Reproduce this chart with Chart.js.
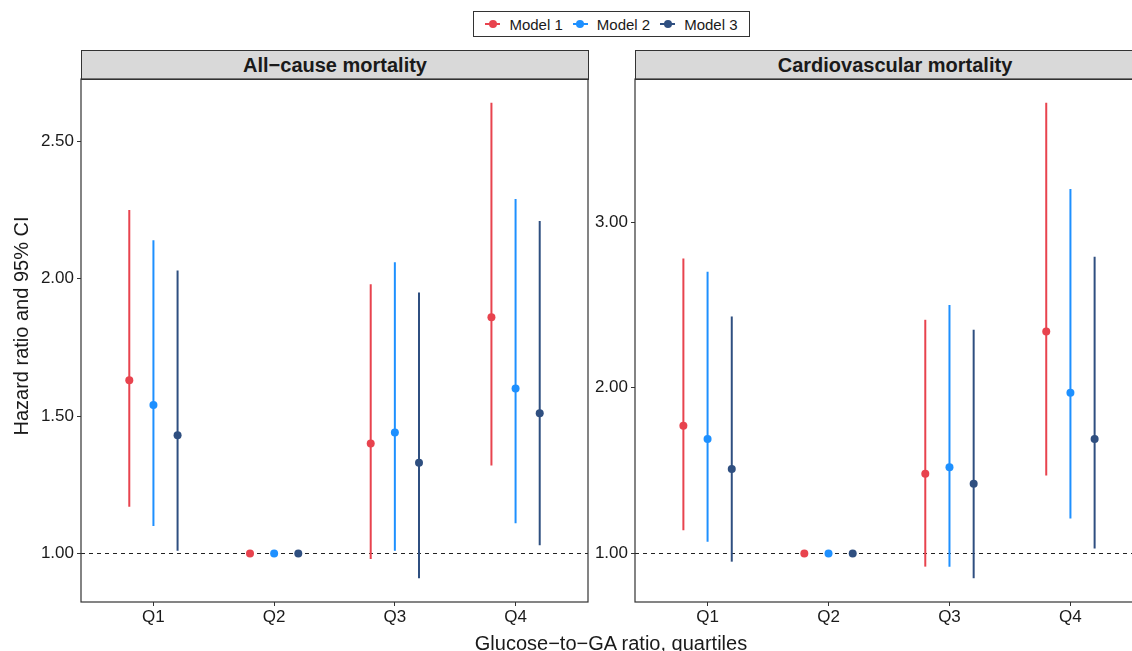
<!DOCTYPE html>
<html lang="en">
<head>
  <meta charset="UTF-8">
  <title>Hazard ratio by glucose-to-GA quartile</title>
  <script src="https://cdn.jsdelivr.net/npm/chart.js"></script>
  <style>
    html, body { margin: 0; padding: 0; overflow: hidden; background: #fff; }
    body { position: relative; width: 1132px; height: 651px; font-family: "Liberation Sans", Arial, sans-serif; color: #1a1a1a; }
    .panel { position: absolute; top: 74px; height: 577px; }
    .strip { position: absolute; top: 50px; height: 30px; box-sizing: border-box; background: #d9d9d9; border: 1px solid #333;
             text-align: center; font-weight: bold; font-size: 20px; line-height: 28px; }
    #legend { position: absolute; left: 473px; top: 11px; width: 277px; height: 26px; box-sizing: border-box; border: 1px solid #333;
              display: flex; align-items: center; justify-content: center; font-size: 15px; }
    #legend .item { display: flex; align-items: center; margin: 0 5px; }
    #legend .key { position: relative; width: 15px; height: 2px; margin-right: 9px; }
    #legend .key::after { content: ""; position: absolute; left: 3.5px; top: -3.5px; width: 8px; height: 8px; border-radius: 50%; background: inherit; }
    .title { position: absolute; font-size: 20px; line-height: 24px; white-space: nowrap; text-align: center; }
  </style>
</head>
<body>
  <div id="legend"></div>

  <div class="strip" style="left:81px; width:508px;">All−cause mortality</div>
  <div class="strip" style="left:635px; width:520px;">Cardiovascular mortality</div>

  <div class="panel" style="left:0; width:600px;"><canvas id="allCause"></canvas></div>
  <div class="panel" style="left:590px; width:570px;"><canvas id="cardio"></canvas></div>

  <div class="title" style="left:-179px; top:314px; width:400px; transform:rotate(-90deg);">Hazard ratio and 95% CI</div>
  <div class="title" style="left:411px; top:631px; width:400px;">Glucose−to−GA ratio, quartiles</div>

  <script>
    // Catégories et séries
    const quartiles = ['Q1', 'Q2', 'Q3', 'Q4'];
    const models = ['Model 1', 'Model 2', 'Model 3'];
    const modelColors = ['#e8434e', '#1e90ff', '#2f4f80'];

    // Mortalité toutes causes : HR, borne basse, borne haute
    const allHr1 = [1.63, 1.00, 1.40, 1.86];
    const allLo1 = [1.17, 1.00, 0.98, 1.32];
    const allHi1 = [2.25, 1.00, 1.98, 2.64];
    const allHr2 = [1.54, 1.00, 1.44, 1.60];
    const allLo2 = [1.10, 1.00, 1.01, 1.11];
    const allHi2 = [2.14, 1.00, 2.06, 2.29];
    const allHr3 = [1.43, 1.00, 1.33, 1.51];
    const allLo3 = [1.01, 1.00, 0.91, 1.03];
    const allHi3 = [2.03, 1.00, 1.95, 2.21];

    // Mortalité cardiovasculaire
    const cvHr1 = [1.77, 1.00, 1.48, 2.34];
    const cvLo1 = [1.14, 1.00, 0.92, 1.47];
    const cvHi1 = [2.78, 1.00, 2.41, 3.72];
    const cvHr2 = [1.69, 1.00, 1.52, 1.97];
    const cvLo2 = [1.07, 1.00, 0.92, 1.21];
    const cvHi2 = [2.70, 1.00, 2.50, 3.20];
    const cvHr3 = [1.51, 1.00, 1.42, 1.69];
    const cvLo3 = [0.95, 1.00, 0.85, 1.03];
    const cvHi3 = [2.43, 1.00, 2.35, 2.79];

    // Graduations de l'axe Y
    const allTicks = [1.00, 1.50, 2.00, 2.50];
    const cvTicks = [1.00, 2.00, 3.00];

    const FONT = '"Liberation Sans", Arial, sans-serif';
    const DODGE = 0.2;

    // Légende
    const legend = document.getElementById('legend');
    models.forEach((m, i) => {
      legend.innerHTML += '<span class="item"><span class="key" style="background:' + modelColors[i] + '"></span>' + m + '</span>';
    });

    // Intervalles de confiance, ligne de référence et cadre du panneau
    const errorBars = {
      id: 'errorBars',
      beforeDatasetsDraw(chart) {
        const { ctx, chartArea, scales: { x, y } } = chart;
        ctx.save();
        ctx.strokeStyle = '#222';
        ctx.lineWidth = 1;
        ctx.setLineDash([4, 4]);
        const yRef = Math.round(y.getPixelForValue(1)) + 0.5;
        ctx.beginPath();
        ctx.moveTo(chartArea.left, yRef);
        ctx.lineTo(chartArea.right, yRef);
        ctx.stroke();
        ctx.setLineDash([]);
        ctx.lineWidth = 2;
        chart.data.datasets.forEach(ds => {
          ctx.strokeStyle = ds.backgroundColor;
          ds.data.forEach(p => {
            if (p.lo === p.hi) return;
            const px = x.getPixelForValue(p.x);
            ctx.beginPath();
            ctx.moveTo(px, y.getPixelForValue(p.lo));
            ctx.lineTo(px, y.getPixelForValue(p.hi));
            ctx.stroke();
          });
        });
        ctx.restore();
      },
      afterDraw(chart) {
        const { ctx, chartArea: a } = chart;
        ctx.save();
        ctx.strokeStyle = '#333';
        ctx.lineWidth = 1.2;
        ctx.strokeRect(a.left, a.top, a.right - a.left, a.bottom - a.top);
        ctx.restore();
      }
    };

    function buildSeries(hr, lo, hi, m) {
      return quartiles.map((q, i) => ({ x: i + 1 + (m - 1) * DODGE, y: hr[i], lo: lo[i], hi: hi[i] }));
    }

    // Étendue de l'axe Y : données + 5 % de marge (comme ggplot)
    function paddedRange(lists) {
      const all = lists.flat();
      const lo = Math.min(...all), hi = Math.max(...all);
      const pad = (hi - lo) * 0.05;
      return [lo - pad, hi + pad];
    }

    // Pas de marge automatique autour des étiquettes
    function noPadding(sc) {
      sc.paddingTop = 0;
      sc.paddingBottom = 0;
      sc.paddingLeft = 0;
      sc.paddingRight = 0;
    }

    function makeChart(id, series, ticks, yWidth, padRight) {
      const range = paddedRange(series.flatMap(s => [s[1], s[2]]));
      return new Chart(document.getElementById(id), {
        type: 'scatter',
        data: {
          datasets: series.map((s, m) => ({
            label: models[m],
            data: buildSeries(s[0], s[1], s[2], m),
            backgroundColor: modelColors[m],
            borderWidth: 0,
            pointRadius: 4,
            pointHoverRadius: 4
          }))
        },
        options: {
          responsive: true,
          maintainAspectRatio: false,
          animation: false,
          layout: { padding: { top: 5, right: padRight, left: 0, bottom: 0 } },
          plugins: { legend: { display: false }, tooltip: { enabled: false } },
          scales: {
            x: {
              type: 'linear',
              min: 0.4,
              max: 4.6,
              afterBuildTicks: sc => { sc.ticks = quartiles.map((q, i) => ({ value: i + 1 })); },
              afterFit: sc => { sc.height = 49; noPadding(sc); },
              ticks: {
                callback: v => quartiles[v - 1],
                color: '#1a1a1a',
                font: { family: FONT, size: 17 },
                padding: 1,
                maxRotation: 0,
                autoSkip: false
              },
              grid: { drawOnChartArea: false, tickLength: 4, color: '#333' },
              border: { display: false }
            },
            y: {
              min: range[0],
              max: range[1],
              afterBuildTicks: sc => { sc.ticks = ticks.map(v => ({ value: v })); },
              afterFit: sc => { sc.width = yWidth; noPadding(sc); },
              ticks: {
                callback: v => v.toFixed(2),
                color: '#1a1a1a',
                font: { family: FONT, size: 17 },
                padding: 3
              },
              grid: { drawOnChartArea: false, tickLength: 4, color: '#333' },
              border: { display: false }
            }
          }
        },
        plugins: [errorBars]
      });
    }

    makeChart('allCause', [
      [allHr1, allLo1, allHi1],
      [allHr2, allLo2, allHi2],
      [allHr3, allLo3, allHi3]
    ], allTicks, 81, 12);

    makeChart('cardio', [
      [cvHr1, cvLo1, cvHi1],
      [cvHr2, cvLo2, cvHi2],
      [cvHr3, cvLo3, cvHi3]
    ], cvTicks, 45, 17);
  </script>
</body>
</html>
